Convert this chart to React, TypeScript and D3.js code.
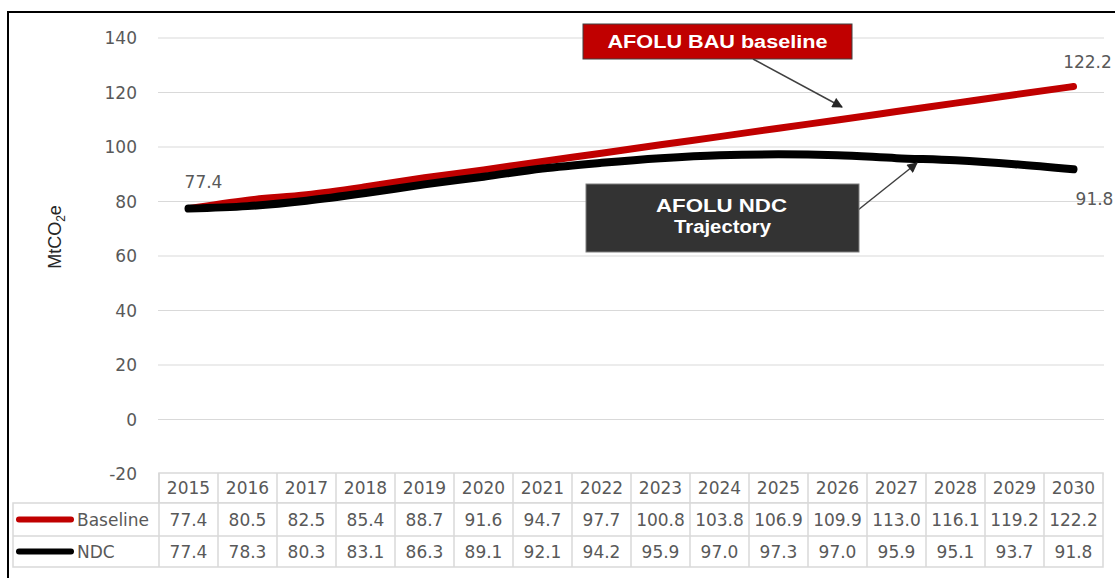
import React from "react";
import * as d3 from "d3";

const years = ["2015","2016","2017","2018","2019","2020","2021","2022","2023","2024","2025","2026","2027","2028","2029","2030"];
const baseline = [77.4,80.5,82.5,85.4,88.7,91.6,94.7,97.7,100.8,103.8,106.9,109.9,113.0,116.1,119.2,122.2];
const ndc = [77.4,78.3,80.3,83.1,86.3,89.1,92.1,94.2,95.9,97.0,97.3,97.0,95.9,95.1,93.7,91.8];
const yTicks = [-20,0,20,40,60,80,100,120,140];
const seriesNames = ["Baseline","NDC"];

const W = 1115, H = 578;
const TXT = "#595959";
const FONT = "'DejaVu Sans', Verdana, sans-serif";
const AFONT = "'Liberation Sans', Arial, sans-serif";

export default function App() {
  const x = d3.scaleBand<string>().domain(years).range([159, 1103]).padding(0);
  const cx = (y: string) => (x(y) as number) + x.bandwidth() / 2;
  const y = d3.scaleLinear().domain([-20, 140]).range([474, 38]);
  const line = d3.line<number>().x((_, i) => cx(years[i])).y(d => y(d)).curve(d3.curveMonotoneX);

  const rowTop = [473, 503, 536, 567];
  const fmt = (v: number) => v.toFixed(1);
  const tableLeft = 13, tableRight = 1103, colLeft = 159;
  const gridColor = "#d9d9d9";

  return (
    <svg width={W} height={H} style={{ position: "absolute", left: 0, top: 0, background: "#fff" }}>
      <defs>
        <marker id="ah" viewBox="0 0 10 10" refX="9" refY="5" markerWidth="7.5" markerHeight="7" orient="auto">
          <path d="M0,0 L10,5 L0,10 z" fill="#262626" />
        </marker>
      </defs>
      <rect x={0} y={0} width={W} height={H} fill="#fff" />
      {/* outer frame */}
      <rect x={8} y={12} width={W + 20} height={H + 20} fill="none" stroke="#000" strokeWidth={2} />

      {/* gridlines */}
      {yTicks.map(t => (
        <line key={t} x1={158} x2={1104} y1={y(t)} y2={y(t)} stroke={gridColor} strokeWidth={1} />
      ))}
      {/* y tick labels */}
      {yTicks.map(t => (
        <text key={t} x={137} y={y(t)} dy="0.36em" textAnchor="end" fontFamily={FONT} fontSize={17} fill={TXT}>{t}</text>
      ))}
      {/* y axis title */}
      <text transform="translate(61,237) rotate(-90)" textAnchor="middle" fontFamily={AFONT} fontSize={18} fill="#262626">
        MtCO<tspan fontSize={12} dy={4}>2</tspan><tspan dy={-4}>e</tspan>
      </text>

      {/* series lines */}
      <path d={line(baseline) || ""} fill="none" stroke="#c00000" strokeWidth={7} strokeLinecap="round" strokeLinejoin="round" />
      <path d={line(ndc) || ""} fill="none" stroke="#000" strokeWidth={8} strokeLinecap="round" strokeLinejoin="round" />

      {/* data labels */}
      <text x={cx(years[0]) + 15} y={y(baseline[0]) - 21} textAnchor="middle" fontFamily={FONT} fontSize={17} fill={TXT}>{fmt(baseline[0])}</text>
      <text x={cx(years[15]) + 14} y={y(baseline[15]) - 19} textAnchor="middle" fontFamily={FONT} fontSize={17} fill={TXT}>{fmt(baseline[15])}</text>
      <text x={cx(years[15]) + 21} y={y(ndc[15]) + 36} textAnchor="middle" fontFamily={FONT} fontSize={17} fill={TXT}>{fmt(ndc[15])}</text>

      {/* annotation: BAU */}
      <line x1={753} y1={59} x2={842} y2={107} stroke="#404040" strokeWidth={1.5} markerEnd="url(#ah)" />
      <rect x={583} y={24} width={269} height={35} fill="#c00000" stroke="#404040" strokeWidth={1} />
      <text x={717.5} y={48} textAnchor="middle" fontFamily={AFONT} fontWeight="bold" fontSize={18} fill="#fff" textLength={220} lengthAdjust="spacingAndGlyphs">AFOLU BAU baseline</text>

      {/* annotation: NDC */}
      <line x1={858} y1={210} x2={917} y2={163} stroke="#404040" strokeWidth={1.5} markerEnd="url(#ah)" />
      <rect x={586} y={184} width={273} height={68} fill="#333333" stroke="#7f7f7f" strokeWidth={1} />
      <text x={721.5} y={212} textAnchor="middle" fontFamily={AFONT} fontWeight="bold" fontSize={18} fill="#fff" textLength={131} lengthAdjust="spacingAndGlyphs">AFOLU NDC</text>
      <text x={722.5} y={233} textAnchor="middle" fontFamily={AFONT} fontWeight="bold" fontSize={18} fill="#fff" textLength={97} lengthAdjust="spacingAndGlyphs">Trajectory</text>

      {/* data table */}
      <g>
        <rect x={colLeft} y={rowTop[0]} width={tableRight - colLeft} height={rowTop[1] - rowTop[0]} fill="#fff" stroke={gridColor} strokeWidth={1.5} />
        <rect x={tableLeft} y={rowTop[1]} width={tableRight - tableLeft} height={rowTop[3] - rowTop[1]} fill="#fff" stroke={gridColor} strokeWidth={1.5} />
        <line x1={tableLeft} x2={tableRight} y1={rowTop[2]} y2={rowTop[2]} stroke={gridColor} strokeWidth={1.5} />
        {years.map((yr) => (
          <line key={yr} x1={x(yr) as number} x2={x(yr) as number} y1={rowTop[0]} y2={rowTop[3]} stroke={gridColor} strokeWidth={1.5} />
        ))}
        {years.map((yr) => (
          <text key={"h" + yr} x={cx(yr)} y={(rowTop[0] + rowTop[1]) / 2} dy="0.36em" textAnchor="middle" fontFamily={FONT} fontSize={17} fill={TXT}>{yr}</text>
        ))}
        {baseline.map((v, i) => (
          <text key={"b" + i} x={cx(years[i])} y={(rowTop[1] + rowTop[2]) / 2} dy="0.36em" textAnchor="middle" fontFamily={FONT} fontSize={17} fill={TXT}>{fmt(v)}</text>
        ))}
        {ndc.map((v, i) => (
          <text key={"n" + i} x={cx(years[i])} y={(rowTop[2] + rowTop[3]) / 2} dy="0.36em" textAnchor="middle" fontFamily={FONT} fontSize={17} fill={TXT}>{fmt(v)}</text>
        ))}
        {/* legend keys */}
        <line x1={19} x2={71} y1={(rowTop[1] + rowTop[2]) / 2} y2={(rowTop[1] + rowTop[2]) / 2} stroke="#c00000" strokeWidth={6} strokeLinecap="round" />
        <text x={77} y={(rowTop[1] + rowTop[2]) / 2} dy="0.36em" fontFamily={FONT} fontSize={17} fill={TXT}>{seriesNames[0]}</text>
        <line x1={19} x2={71} y1={(rowTop[2] + rowTop[3]) / 2} y2={(rowTop[2] + rowTop[3]) / 2} stroke="#000" strokeWidth={6} strokeLinecap="round" />
        <text x={77} y={(rowTop[2] + rowTop[3]) / 2} dy="0.36em" fontFamily={FONT} fontSize={17} fill={TXT}>{seriesNames[1]}</text>
      </g>
    </svg>
  );
}
